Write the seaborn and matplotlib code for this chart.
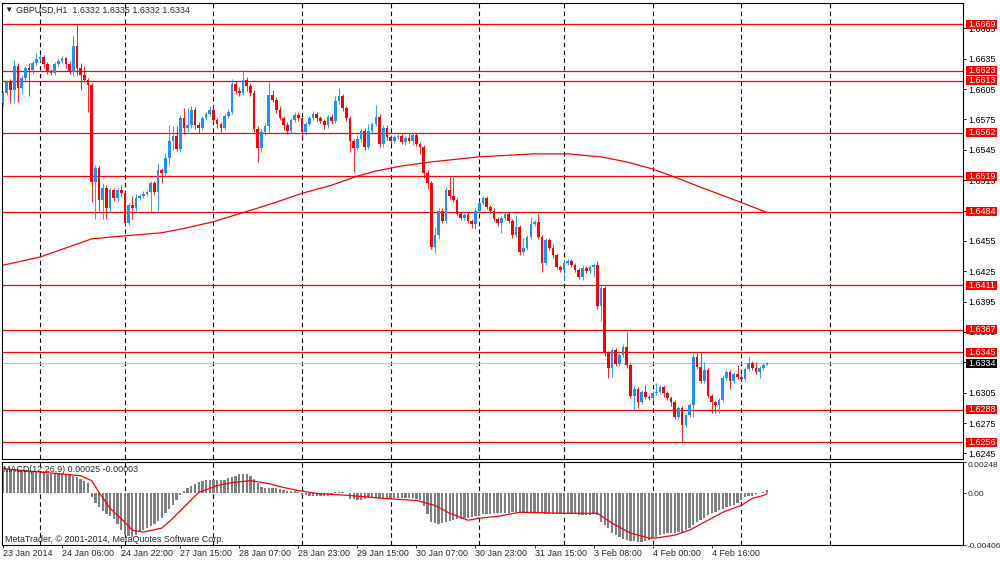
import numpy as np
import pandas as pd
import matplotlib
matplotlib.use("Agg")
import matplotlib.pyplot as plt
import matplotlib.transforms as mtransforms
from matplotlib.patches import Rectangle
import seaborn as sns

# ---- data (GBPUSD H1) ----
symbol = "GBPUSD,H1"
last_ohlc = ["1.6332", "1.6335", "1.6332", "1.6334"]
first_open = 1.6591

close = [
    1.6601, 1.6612, 1.6604, 1.6628, 1.6606, 1.6616, 1.6626, 1.6624, 1.6631, 1.6635,
    1.6637, 1.6630, 1.6622, 1.6621, 1.6630, 1.6633, 1.6636, 1.6630, 1.6622, 1.6648,
    1.6626, 1.6619, 1.6614, 1.6609, 1.6513, 1.6527, 1.6495, 1.6507, 1.6487, 1.6505,
    1.6497, 1.6505, 1.6502, 1.6473, 1.6490, 1.6487, 1.6497, 1.6499, 1.6501, 1.6503,
    1.6512, 1.6503, 1.6525, 1.6522, 1.6537, 1.6554, 1.6559, 1.6546, 1.6576, 1.6567,
    1.6569, 1.6584, 1.6569, 1.6567, 1.6576, 1.6580, 1.6584, 1.6574, 1.6570, 1.6567,
    1.6578, 1.6582, 1.6610, 1.6603, 1.6601, 1.6614, 1.6608, 1.6601, 1.6566, 1.6547,
    1.6563, 1.6568, 1.6599, 1.6594, 1.6584, 1.6576, 1.6569, 1.6564, 1.6574, 1.6579,
    1.6576, 1.6563, 1.6570, 1.6576, 1.6580, 1.6576, 1.6573, 1.6569, 1.6577, 1.6573,
    1.6593, 1.6598, 1.6586, 1.6576, 1.6554, 1.6547, 1.6556, 1.6564, 1.6548, 1.6564,
    1.6570, 1.6577, 1.6551, 1.6567, 1.6558, 1.6554, 1.6558, 1.6559, 1.6553, 1.6557,
    1.6554, 1.6560, 1.6551, 1.6548, 1.6522, 1.6512, 1.6449, 1.6461, 1.6485, 1.6475,
    1.6505, 1.6499, 1.6495, 1.6482, 1.6478, 1.6481, 1.6475, 1.6472, 1.6485, 1.6492,
    1.6497, 1.6488, 1.6485, 1.6477, 1.6473, 1.6478, 1.6482, 1.6475, 1.6461, 1.6469,
    1.6444, 1.6448, 1.6459, 1.6472, 1.6474, 1.6459, 1.6433, 1.6456, 1.6448, 1.6441,
    1.6429, 1.6426, 1.6433, 1.6435, 1.6431, 1.6426, 1.6419, 1.6428, 1.6425, 1.6429,
    1.6431, 1.6391, 1.6408, 1.6344, 1.6329, 1.6347, 1.6333, 1.6342, 1.6350, 1.6332,
    1.6302, 1.6309, 1.6296, 1.6306, 1.6301, 1.6300, 1.6305, 1.6306, 1.6311, 1.6305,
    1.6300, 1.6296, 1.6281, 1.6290, 1.6273, 1.6283, 1.6293, 1.6340, 1.6330, 1.6317,
    1.6327, 1.6302, 1.6296, 1.6293, 1.6298, 1.6320, 1.6325, 1.6317, 1.6323, 1.6321,
    1.6319, 1.6328, 1.6334, 1.6329, 1.6325, 1.6329, 1.6332, 1.6334,
]

high = [
    1.6603, 1.6614, 1.6615, 1.6634, 1.6631, 1.6619, 1.6628, 1.6631, 1.6633, 1.6641,
    1.6640, 1.6639, 1.6632, 1.6625, 1.6632, 1.6636, 1.6638, 1.6637, 1.6633, 1.6658,
    1.6668, 1.6631, 1.6628, 1.6616, 1.6611, 1.6530, 1.6529, 1.6512, 1.6510, 1.6507,
    1.6507, 1.6507, 1.6510, 1.6505, 1.6492, 1.6499, 1.6501, 1.6501, 1.6504, 1.6505,
    1.6514, 1.6514, 1.6532, 1.6527, 1.6542, 1.6569, 1.6568, 1.6568, 1.6579, 1.6586,
    1.6586, 1.6588, 1.6587, 1.6572, 1.6578, 1.6582, 1.6588, 1.6590, 1.6576, 1.6572,
    1.6580, 1.6585, 1.6615, 1.6613, 1.6607, 1.6624, 1.6617, 1.6611, 1.6604, 1.6568,
    1.6566, 1.6571, 1.6612, 1.6604, 1.6597, 1.6588, 1.6578, 1.6572, 1.6576, 1.6582,
    1.6582, 1.6577, 1.6572, 1.6578, 1.6583, 1.6582, 1.6578, 1.6575, 1.6579, 1.6580,
    1.6598, 1.6606, 1.6600, 1.6588, 1.6578, 1.6556, 1.6560, 1.6566, 1.6567, 1.6570,
    1.6572, 1.6589, 1.6580, 1.6569, 1.6569, 1.6560, 1.6560, 1.6561, 1.6561, 1.6559,
    1.6562, 1.6563, 1.6562, 1.6553, 1.6550, 1.6525, 1.6514, 1.6469, 1.6487, 1.6487,
    1.6508, 1.6518, 1.6518, 1.6497, 1.6484, 1.6483, 1.6483, 1.6477, 1.6487, 1.6494,
    1.6499, 1.6499, 1.6490, 1.6487, 1.6479, 1.6480, 1.6484, 1.6484, 1.6477, 1.6481,
    1.6471, 1.6458, 1.6461, 1.6479, 1.6476, 1.6482, 1.6461, 1.6458, 1.6458, 1.6452,
    1.6443, 1.6431, 1.6436, 1.6437, 1.6437, 1.6433, 1.6428, 1.6431, 1.6430, 1.6431,
    1.6433, 1.6435, 1.6410, 1.6410, 1.6346, 1.6349, 1.6349, 1.6344, 1.6353, 1.6365,
    1.6334, 1.6312, 1.6311, 1.6308, 1.6313, 1.6303, 1.6307, 1.6315, 1.6313, 1.6313,
    1.6307, 1.6302, 1.6298, 1.6292, 1.6292, 1.6285, 1.6295, 1.6344, 1.6344, 1.6344,
    1.6335, 1.6329, 1.6304, 1.6298, 1.6300, 1.6322, 1.6327, 1.6327, 1.6325, 1.6332,
    1.6323, 1.6330, 1.6340, 1.6336, 1.6335, 1.6331, 1.6334, 1.6335,
]

low = [
    1.6588, 1.6599, 1.6591, 1.6591, 1.6592, 1.6600, 1.6612, 1.6598, 1.6620, 1.6629,
    1.6633, 1.6626, 1.6620, 1.6619, 1.6619, 1.6628, 1.6631, 1.6626, 1.6620, 1.6618,
    1.6619, 1.6604, 1.6612, 1.6582, 1.6493, 1.6477, 1.6485, 1.6477, 1.6477, 1.6484,
    1.6494, 1.6494, 1.6498, 1.6471, 1.6471, 1.6477, 1.6485, 1.6495, 1.6497, 1.6499,
    1.6485, 1.6500, 1.6485, 1.6512, 1.6518, 1.6530, 1.6545, 1.6544, 1.6543, 1.6561,
    1.6563, 1.6567, 1.6566, 1.6562, 1.6565, 1.6574, 1.6578, 1.6571, 1.6567, 1.6563,
    1.6565, 1.6576, 1.6580, 1.6600, 1.6598, 1.6599, 1.6603, 1.6598, 1.6563, 1.6533,
    1.6543, 1.6560, 1.6562, 1.6592, 1.6581, 1.6574, 1.6565, 1.6561, 1.6562, 1.6572,
    1.6573, 1.6557, 1.6560, 1.6568, 1.6574, 1.6573, 1.6571, 1.6566, 1.6567, 1.6570,
    1.6571, 1.6590, 1.6583, 1.6573, 1.6543, 1.6523, 1.6545, 1.6553, 1.6545, 1.6546,
    1.6561, 1.6568, 1.6548, 1.6548, 1.6555, 1.6551, 1.6552, 1.6556, 1.6551, 1.6550,
    1.6552, 1.6550, 1.6549, 1.6541, 1.6517, 1.6506, 1.6447, 1.6443, 1.6457, 1.6473,
    1.6473, 1.6496, 1.6493, 1.6480, 1.6476, 1.6476, 1.6473, 1.6468, 1.6467, 1.6483,
    1.6490, 1.6486, 1.6483, 1.6475, 1.6470, 1.6463, 1.6476, 1.6473, 1.6458, 1.6459,
    1.6441, 1.6441, 1.6446, 1.6457, 1.6470, 1.6457, 1.6424, 1.6431, 1.6446, 1.6438,
    1.6427, 1.6424, 1.6415, 1.6431, 1.6429, 1.6424, 1.6417, 1.6416, 1.6423, 1.6423,
    1.6419, 1.6388, 1.6376, 1.6341, 1.6320, 1.6321, 1.6331, 1.6331, 1.6340, 1.6329,
    1.6300, 1.6288, 1.6290, 1.6294, 1.6299, 1.6298, 1.6298, 1.6303, 1.6304, 1.6301,
    1.6298, 1.6292, 1.6279, 1.6279, 1.6255, 1.6271, 1.6281, 1.6281, 1.6328, 1.6315,
    1.6315, 1.6300, 1.6285, 1.6285, 1.6285, 1.6296, 1.6318, 1.6309, 1.6315, 1.6319,
    1.6316, 1.6317, 1.6326, 1.6327, 1.6323, 1.6320, 1.6327, 1.6332,
]

# moving average curve, read at a set of bars
ma_bar = [0, 10, 17, 24, 33, 43, 50, 57, 66, 73, 81, 89, 96, 101, 108, 116, 129,
          144, 153, 162, 169, 176, 182, 189, 200, 207]
ma_price = [1.6431, 1.6439, 1.6448, 1.6457, 1.6460, 1.6463, 1.6468, 1.6474, 1.6484,
            1.6492, 1.6502, 1.6510, 1.6519, 1.6524, 1.6529, 1.6533, 1.6538, 1.6541,
            1.6541, 1.6538, 1.6533, 1.6526, 1.6518, 1.6508, 1.6493, 1.6483]

# MACD(12,26,9) histogram, in units of 0.00001
macd_hist_e5 = [
    185, 188, 190, 188, 186, 184, 182, 180, 176, 170,
    165, 160, 157, 155, 152, 150, 150, 148, 145, 140,
    130, 115, 100, 80, -30, -75, -110, -140, -160, -175,
    -205, -240, -290, -325, -338, -340, -330, -305, -290, -275,
    -260, -240, -215, -190, -150, -120, -90, -55, -10, 20,
    40, 60, 78, 90, 100, 105, 108, 110, 109, 108,
    110, 120, 133, 140, 150, 156, 150, 135, 117, 80,
    50, 47, 45, 40, 40, 38, 30, 23, 18, 16,
    8, -10, -15, -18, -20, -22, -20, -18, -20, -15,
    8, 10, 8, 5, -40, -47, -50, -48, -45, -38,
    -35, -35, -33, -35, -38, -35, -33, -35, -38, -35,
    -33, -35, -40, -55, -100, -160, -225, -235, -240, -235,
    -225, -215, -210, -205, -200, -195, -190, -185, -180, -175,
    -165, -160, -158, -156, -155, -155, -152, -150, -148, -148,
    -146, -148, -150, -150, -148, -150, -155, -158, -160, -160,
    -162, -163, -164, -165, -163, -165, -166, -168, -168, -166,
    -165, -170, -225, -250, -273, -312, -330, -345, -355, -365,
    -372, -378, -382, -380, -378, -370, -351, -340, -325, -318,
    -312, -310, -308, -306, -304, -290, -270, -250, -226, -210,
    -190, -170, -156, -145, -130, -120, -109, -100, -90, -78,
    -55, -31, -22, -16, -8, 0, 12, 25,
]
signal_bar = [0, 21, 24, 26, 29, 33, 35, 38, 43, 46, 50, 53, 58, 62, 67, 72, 76, 80,
              85, 94, 103, 112, 117, 121, 126, 129, 134, 140, 152, 161, 165, 170, 175,
              177, 182, 186, 191, 195, 200, 203, 206, 207]
signal_e5 = [195, 140, 101, 8, -117, -226, -289, -304, -273, -195, -78, 8, 62, 86, 101,
             78, 47, 23, 0, -16, -39, -55, -94, -156, -211, -195, -180, -148, -156,
             -156, -234, -312, -351, -351, -328, -289, -211, -148, -94, -39, -16, -3]
macd_text = "MACD(12,26,9) 0.00025 -0.00003"

levels = [1.6669, 1.6623, 1.6613, 1.6562, 1.6519, 1.6484, 1.6411, 1.6367, 1.6345,
          1.6288, 1.6256]
bid = 1.6334
price_ticks = [1.6665, 1.6635, 1.6605, 1.6575, 1.6545, 1.6515, 1.6485, 1.6455,
               1.6425, 1.6395, 1.6365, 1.6335, 1.6305, 1.6275, 1.6245]

BULL = "#1E90FF"
BEAR = "#FF0000"
W, H = 1000, 562


def fx(px):
    return px / W


def fy(py):
    return 1 - py / H


sns.set_style("white")
plt.rcParams["font.family"] = ["Liberation Sans", "DejaVu Sans"]
FS = 6.4

c = np.array(close)
hi = np.array(high)
lo = np.array(low)
o = np.r_[first_open, c[:-1]]
x = np.arange(len(c))
colors = np.where(c >= o, BULL, BEAR)

# hourly bar times, no weekend and no Friday 23:00 bar
times = pd.date_range("2014-01-23 14:00", "2014-02-06 23:00", freq="h")
times = times[(times.dayofweek < 5) & ~((times.dayofweek == 4) & (times.hour == 23))]
day_starts = np.where(times.hour == 0)[0]
label_pos = np.arange(0, len(c), 16)
label_txt = [f"{times[0].day} {times[0]:%b %Y}"] + \
    [f"{times[i].day} {times[i]:%b %H:%M}" for i in label_pos[1:]]

fig = plt.figure(figsize=(W / 100, H / 100), dpi=100)
ax = fig.add_axes([fx(2), fy(459), fx(961), (459 - 3) / H])
ax2 = fig.add_axes([fx(2), fy(545), fx(961), (545 - 462) / H])

xlim = (-0.3, 260.1)
for a in (ax, ax2):
    a.set_xlim(*xlim)
    for s in a.spines.values():
        s.set_color("black")
        s.set_linewidth(0.8)
    for d in day_starts:
        a.axvline(d, color="black", lw=0.8, ls=(0, (4, 3)), zorder=0.5)

ax.set_ylim(1.62395, 1.66900)

# support / resistance lines and bid line
for lv in levels:
    ax.axhline(lv, color=BEAR, lw=0.9, zorder=1)
ax.axhline(bid, color="#C0C0C0", lw=0.8, zorder=1)

# moving average
sns.lineplot(x=ma_bar, y=ma_price, ax=ax, color=BEAR, lw=0.9, legend=False, zorder=2)

# candles
ax.vlines(x, lo, hi, colors=colors, lw=0.75, alpha=0.85, zorder=3)
ax.bar(x, c - o, bottom=o, width=0.72, color=colors, linewidth=0, zorder=4)

ax.set_xticks([])
ax.yaxis.tick_right()
ax.set_yticks(price_ticks)
ax.set_yticklabels([f"{v:.4f}" for v in price_ticks])
ax.tick_params(axis="y", right=True, length=2.2, width=0.7, pad=1.5, labelsize=FS,
               colors="black")
ax.set_ylabel("")

# coloured price labels on the right scale
blend = mtransforms.blended_transform_factory(ax.transAxes, ax.transData)
box_w = 31 / 961
box_h = 9 / 10121
for lv, face in [(v, BEAR) for v in levels] + [(bid, "black")]:
    ax.add_patch(Rectangle((1.0032, lv - box_h / 2), box_w, box_h, transform=blend,
                           facecolor=face, edgecolor="none", clip_on=False, zorder=10))
    ax.text(1.0032 + box_w / 2, lv, f"{lv:.4f}", transform=blend, ha="center",
            va="center", color="white", fontsize=FS, clip_on=False, zorder=11)

# MACD panel
hist = np.array(macd_hist_e5) * 1e-5
ax2.bar(x, hist, width=0.62, color="#808080", linewidth=0, zorder=2)
sns.lineplot(x=signal_bar, y=np.array(signal_e5) * 1e-5, ax=ax2, color=BEAR, lw=0.9,
             legend=False, zorder=3)
ax2.set_ylim(-0.00406, 0.00248)
ax2.yaxis.tick_right()
ax2.set_yticks([0.00248, 0.0, -0.00406])
ax2.set_yticklabels(["0.00248", "0.00", "-0.00406"])
ax2.get_yticklabels()[0].set_va("top")
ax2.tick_params(axis="y", right=True, length=2.2, width=0.7, pad=1.0, labelsize=6.0)
ax2.set_xticks(label_pos)
ax2.set_xticklabels(label_txt, ha="left")
ax2.tick_params(axis="x", bottom=True, length=2.5, width=0.7, pad=0.5, labelsize=FS)
ax2.set_ylabel("")

# header and panel captions
fig.text(fx(8), fy(10), "\u25bc", fontsize=6, ha="center", va="center")
fig.text(fx(16), fy(10), f"{symbol}  " + " ".join(last_ohlc), fontsize=FS,
         ha="left", va="center")
fig.text(fx(3), fy(470), macd_text, fontsize=FS, ha="left", va="center", zorder=20)
fig.text(fx(5), fy(539), "MetaTrader, \u00a9 2001-2014, MetaQuotes Software Corp.",
         fontsize=FS, ha="left", va="center", zorder=20)

fig.savefig("out.png", dpi=100, facecolor="white")
